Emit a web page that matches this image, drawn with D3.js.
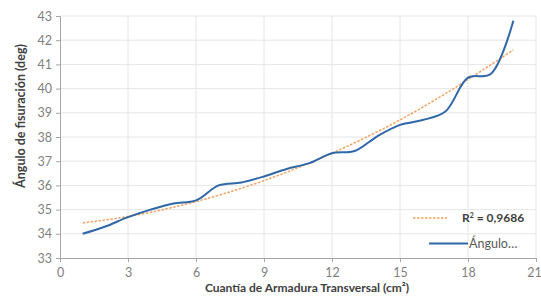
<!DOCTYPE html>
<html>
<head>
<meta charset="utf-8">
<script src="https://cdn.jsdelivr.net/npm/d3@7"></script>
<style>
  body { margin: 0; background: #fff; }
  svg text { font-family: "Lato", "Open Sans", sans-serif; }
</style>
</head>
<body>
<div id="chart"></div>
<script>
// Cuantía de armadura transversal (cm²)
const cuantia = [1, 2, 3, 4, 5, 6, 7, 8, 9, 10, 11, 12, 13, 14, 15, 16, 17, 18, 19, 20];
// Ángulo de fisuración (deg)
const angulo = [34.0, 34.3, 34.69, 35.0, 35.25, 35.38, 36.0, 36.12, 36.37, 36.68,
  36.92, 37.33, 37.42, 38.03, 38.5, 38.7, 39.05, 40.45, 40.6, 42.8];
// Trend line (polynomial), read at a few points
const trendX = [1, 4, 8, 12, 16, 20];
const trendY = [34.45, 34.89, 35.88, 37.33, 39.23, 41.6];

const xTicks = [0, 3, 6, 9, 12, 15, 18, 21];
const yTicks = [33, 34, 35, 36, 37, 38, 39, 40, 41, 42, 43];
const r2Label = '0,9686';
const seriesName = 'Ángulo…';

const imageWidth = 541;
const imageHeight = 297;
const margin = {
  top: 16, right: 5, bottom: 39, left: 60,
};
const width = imageWidth - margin.left - margin.right;
const height = imageHeight - margin.top - margin.bottom;

const svg = d3.select('#chart').append('svg')
  .attr('width', imageWidth)
  .attr('height', imageHeight);

const g = svg.append('g')
  .attr('transform', `translate(${margin.left},${margin.top})`);

const x = d3.scaleLinear().domain([0, 21]).range([0, width]);
const y = d3.scaleLinear().domain([33, 43]).range([height, 0]);

// Gridlines
g.append('g')
  .selectAll('line')
  .data(yTicks.slice(1))
  .join('line')
  .attr('x1', 0)
  .attr('x2', width)
  .attr('y1', (d) => y(d))
  .attr('y2', (d) => y(d))
  .attr('stroke', '#e6e6e6');
g.append('g')
  .selectAll('line')
  .data(xTicks.slice(1))
  .join('line')
  .attr('x1', (d) => x(d))
  .attr('x2', (d) => x(d))
  .attr('y1', 0)
  .attr('y2', height)
  .attr('stroke', '#e6e6e6');

// Axes
const xAxis = d3.axisBottom(x).tickValues(xTicks).tickSize(4).tickPadding(6);
const yAxis = d3.axisLeft(y).tickValues(yTicks).tickSize(4).tickPadding(4);

const gx = g.append('g')
  .attr('transform', `translate(0,${height})`)
  .call(xAxis);
const gy = g.append('g').call(yAxis);

[gx, gy].forEach((ax) => {
  ax.select('.domain').attr('stroke', '#a6a6a6');
  ax.selectAll('.tick line').attr('stroke', '#a6a6a6');
  ax.selectAll('.tick text')
    .attr('fill', '#7f7f7f')
    .style('font-size', '12.5px');
});
// keep the last label inside the picture
gx.selectAll('.tick text').filter((d) => d === 21).attr('dx', '-2');

// Axis titles
svg.append('text')
  .attr('x', 307)
  .attr('y', 292)
  .attr('text-anchor', 'middle')
  .attr('fill', '#404040')
  .style('font-size', '12px')
  .style('font-weight', '700')
  .text('Cuantía de Armadura Transversal (cm²)');

svg.append('text')
  .attr('transform', 'translate(25,116) rotate(-90)')
  .attr('text-anchor', 'middle')
  .attr('fill', '#404040')
  .style('font-size', '12.5px')
  .style('font-weight', '700')
  .text('Ángulo de fisuración (deg)');

// Trend line
const trendLine = d3.line()
  .x((d, i) => x(trendX[i]))
  .y((d) => y(d))
  .curve(d3.curveNatural);
g.append('path')
  .datum(trendY)
  .attr('fill', 'none')
  .attr('stroke', '#f4a261')
  .attr('stroke-width', 1.5)
  .attr('stroke-dasharray', '2.5,1.5')
  .attr('d', trendLine);

// Data series
const line = d3.line()
  .x((d, i) => x(cuantia[i]))
  .y((d) => y(d))
  .curve(d3.curveCatmullRom.alpha(0.5));
g.append('path')
  .datum(angulo)
  .attr('fill', 'none')
  .attr('stroke', '#2f67a8')
  .attr('stroke-width', 2)
  .attr('d', line);

// Legend
const legend = svg.append('g');
legend.append('line')
  .attr('x1', 413).attr('x2', 447)
  .attr('y1', 218).attr('y2', 218)
  .attr('stroke', '#f4a261')
  .attr('stroke-width', 1.5)
  .attr('stroke-dasharray', '2.5,1.5');
const r2 = legend.append('text')
  .attr('x', 462)
  .attr('y', 222)
  .attr('fill', '#404040')
  .style('font-size', '12px')
  .style('font-weight', '700');
r2.append('tspan').text('R');
r2.append('tspan').attr('dy', -4).style('font-size', '7px').text('2');
r2.append('tspan').attr('dy', 4).text(` = ${r2Label}`);

legend.append('line')
  .attr('x1', 429).attr('x2', 468)
  .attr('y1', 243.5).attr('y2', 243.5)
  .attr('stroke', '#2f67a8')
  .attr('stroke-width', 2);
legend.append('text')
  .attr('x', 469)
  .attr('y', 248)
  .attr('fill', '#595959')
  .style('font-size', '12.5px')
  .text(seriesName);
</script>
</body>
</html>
